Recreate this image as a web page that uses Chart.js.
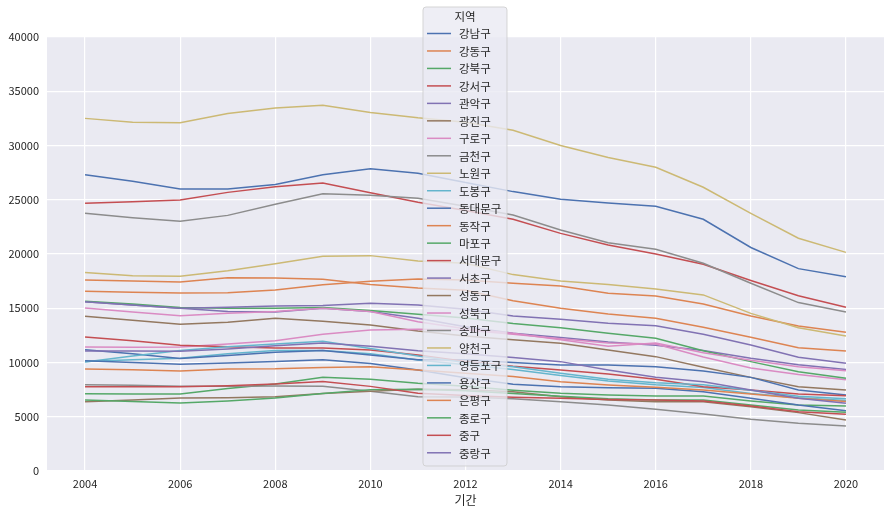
<!DOCTYPE html>
<html>
<head>
<meta charset="utf-8">
<script src="https://cdn.jsdelivr.net/npm/chart.js@4.4.1/dist/chart.umd.min.js"></script>
<style>
  html, body { margin: 0; padding: 0; background: #fff; }
  #wrap { width: 890px; height: 515px; }
</style>
</head>
<body>
<div id="wrap"><canvas id="chart" width="890" height="515"></canvas></div>
<script>
"use strict";

// 기간 (x) and tick labels
const years = [2004, 2005, 2006, 2007, 2008, 2009, 2010, 2011, 2012, 2013, 2014, 2015, 2016, 2017, 2018, 2019, 2020];
const xTicks = [2004, 2006, 2008, 2010, 2012, 2014, 2016, 2018, 2020];
const yTicks = [0, 5000, 10000, 15000, 20000, 25000, 30000, 35000, 40000];

// values per 지역
const gangnam     = [27300, 26700, 26000, 26000, 26400, 27300, 27850, 27450, 26600, 25750, 25050, 24700, 24400, 23200, 20600, 18650, 17900];
const gangdong    = [16560, 16470, 16400, 16430, 16680, 17170, 17480, 17700, 17600, 17300, 17050, 16380, 16130, 15390, 14290, 13360, 12780];
const gangbuk     = [7120, 7100, 7090, 7600, 8010, 8640, 8460, 8080, 7800, 7450, 7160, 7000, 6910, 6910, 6450, 6080, 6000];
const gangseo     = [24670, 24820, 24980, 25680, 26200, 26540, 25650, 24770, 24000, 23200, 21900, 20830, 20000, 19050, 17560, 16150, 15100];
const gwanak      = [15600, 15300, 15000, 14700, 14650, 15000, 14700, 14070, 13300, 12700, 12300, 11900, 11600, 11100, 10400, 9800, 9350];
const gwangjin    = [14270, 13900, 13520, 13700, 14070, 13800, 13450, 12900, 12450, 12100, 11770, 11150, 10540, 9560, 8630, 7770, 7470];
const guro        = [11420, 11400, 11420, 11700, 12000, 12600, 13000, 13060, 13000, 12600, 12200, 11800, 11700, 10500, 9500, 8900, 8420];
const geumcheon   = [7940, 7900, 7800, 7800, 7830, 7800, 7350, 6850, 6810, 6650, 6390, 6080, 5690, 5250, 4760, 4390, 4150];
const nowon       = [32500, 32150, 32100, 32950, 33450, 33700, 33050, 32550, 32150, 31400, 30000, 28900, 28000, 26150, 23750, 21450, 20150];
const dobong      = [10100, 10250, 10400, 10800, 11100, 11100, 10800, 10230, 9800, 9350, 8800, 8300, 7950, 7700, 7150, 6750, 6500];
const dongdaemun  = [11180, 10800, 10360, 10650, 10950, 11100, 10700, 10250, 10250, 10000, 9770, 9770, 9610, 9220, 8630, 7470, 7000];
const dongjak     = [17600, 17510, 17420, 17820, 17790, 17670, 17200, 16870, 16650, 15700, 14990, 14470, 14070, 13240, 12320, 11370, 11060];
const mapo        = [15640, 15400, 15060, 15000, 15000, 15060, 14800, 14450, 14100, 13600, 13210, 12690, 12230, 11090, 10080, 9150, 8540];
const seodaemun   = [12360, 12000, 11580, 11450, 11340, 11340, 11150, 10690, 10100, 9650, 9310, 8940, 8450, 7770, 7470, 7100, 6940];
const seocho      = [15600, 15300, 15000, 15100, 15200, 15250, 15450, 15300, 14900, 14290, 13980, 13610, 13390, 12600, 11610, 10480, 9920];
const seongdong   = [6390, 6550, 6730, 6760, 6840, 7140, 7350, 7530, 7500, 7300, 6850, 6540, 6390, 6390, 5930, 5380, 4700];
const seongbuk    = [15030, 14650, 14300, 14550, 14700, 15000, 14700, 13760, 13100, 12700, 12100, 11500, 11800, 10900, 10200, 9600, 9250];
const songpa      = [23750, 23350, 23010, 23560, 24580, 25560, 25410, 25130, 24400, 23590, 22210, 21040, 20430, 19140, 17300, 15520, 14650];
const yangcheon   = [18300, 18000, 17950, 18450, 19100, 19800, 19850, 19350, 19150, 18100, 17520, 17200, 16780, 16230, 14530, 13200, 12450];
const yeongdeungpo = [10050, 10600, 11100, 11450, 11700, 11950, 11300, 10600, 10000, 9600, 9000, 8450, 8140, 7950, 7450, 6900, 6670];
const yongsan     = [10150, 10000, 9850, 9950, 10100, 10260, 9900, 9310, 8600, 8000, 7770, 7680, 7620, 7310, 6700, 6080, 5560];
const eunpyeong   = [9390, 9340, 9220, 9400, 9420, 9540, 9600, 9310, 9000, 8700, 8230, 7930, 7710, 7470, 7100, 6700, 6400];
const jongno      = [6550, 6400, 6270, 6450, 6720, 7140, 7500, 7530, 7400, 7150, 6900, 6650, 6550, 6540, 6080, 5620, 5410];
const junggu      = [7760, 7760, 7760, 7850, 8010, 8250, 7800, 7160, 6950, 6800, 6700, 6600, 6540, 6450, 5990, 5470, 5220];
const jungnang    = [11060, 11050, 11030, 11250, 11550, 11790, 11500, 11090, 10800, 10450, 10080, 9310, 8630, 8230, 7470, 6700, 6240];

const districts = ['강남구', '강동구', '강북구', '강서구', '관악구', '광진구', '구로구', '금천구', '노원구', '도봉구',
                   '동대문구', '동작구', '마포구', '서대문구', '서초구', '성동구', '성북구', '송파구', '양천구', '영등포구',
                   '용산구', '은평구', '종로구', '중구', '중랑구'];
const series = [gangnam, gangdong, gangbuk, gangseo, gwanak, gwangjin, guro, geumcheon, nowon, dobong,
                dongdaemun, dongjak, mapo, seodaemun, seocho, seongdong, seongbuk, songpa, yangcheon, yeongdeungpo,
                yongsan, eunpyeong, jongno, junggu, jungnang];

// seaborn "deep" palette
const palette = ['#4c72b0', '#dd8452', '#55a868', '#c44e52', '#8172b3', '#937860', '#da8bc3', '#8c8c8c', '#ccb974', '#64b5cd'];

const FONT = "'Noto Sans CJK KR', 'Noto Sans', sans-serif";
const TEXT = '#262626';

// plot background
const bgPlugin = {
    id: 'plotBg',
    beforeDraw(chart) {
        const { ctx, chartArea: a } = chart;
        ctx.save();
        ctx.fillStyle = '#eaeaf2';
        ctx.fillRect(a.left, a.top, a.right - a.left, a.bottom - a.top);
        ctx.restore();
    }
};

// legend box with title, in the middle of the plot
const legendPlugin = {
    id: 'midLegend',
    afterDatasetsDraw(chart) {
        const ctx = chart.ctx;
        const x0 = 423, y0 = 7, w = 84, h = 459, r = 3;
        ctx.save();
        ctx.beginPath();
        ctx.moveTo(x0 + r, y0);
        ctx.arcTo(x0 + w, y0, x0 + w, y0 + h, r);
        ctx.arcTo(x0 + w, y0 + h, x0, y0 + h, r);
        ctx.arcTo(x0, y0 + h, x0, y0, r);
        ctx.arcTo(x0, y0, x0 + w, y0, r);
        ctx.closePath();
        ctx.fillStyle = 'rgba(234,234,242,0.8)';
        ctx.fill();
        ctx.strokeStyle = 'rgba(204,204,204,0.8)';
        ctx.lineWidth = 1;
        ctx.stroke();

        ctx.fillStyle = TEXT;
        ctx.font = '11.5px ' + FONT;
        ctx.textBaseline = 'middle';
        ctx.textAlign = 'center';
        ctx.fillText('지역', x0 + w / 2, 17);

        ctx.textAlign = 'left';
        chart.data.datasets.forEach((ds, i) => {
            const yy = 33.5 + i * 17.47;
            ctx.strokeStyle = ds.borderColor;
            ctx.lineWidth = 1.5;
            ctx.beginPath();
            ctx.moveTo(427, yy);
            ctx.lineTo(451, yy);
            ctx.stroke();
            ctx.fillStyle = TEXT;
            ctx.fillText(ds.label, 459, yy + 0.5);
        });
        ctx.restore();
    }
};

const datasets = districts.map((name, i) => ({
    label: name,
    data: years.map((yr, j) => ({ x: yr, y: series[i][j] })),
    borderColor: palette[i % palette.length],
    backgroundColor: palette[i % palette.length],
    borderWidth: 1.5,
    pointRadius: 0,
    tension: 0,
    fill: false,
    order: districts.length - i
}));

new Chart(document.getElementById('chart').getContext('2d'), {
    type: 'line',
    data: { datasets: datasets },
    options: {
        responsive: false,
        animation: false,
        events: [],
        layout: { padding: { top: 37, right: 6, left: 0, bottom: 0 } },
        plugins: {
            legend: { display: false },
            tooltip: { enabled: false }
        },
        scales: {
            x: {
                type: 'linear',
                min: 2003.2,
                max: 2020.8,
                afterBuildTicks: (s) => { s.ticks = xTicks.map(v => ({ value: v })); },
                afterFit: (s) => { s.height = 44; },
                ticks: {
                    callback: (v) => String(v),
                    color: TEXT,
                    font: { family: FONT, size: 11 },
                    padding: 6,
                    maxRotation: 0
                },
                grid: { color: '#ffffff', lineWidth: 1.2, drawTicks: false },
                border: { display: false },
                title: {
                    display: true,
                    text: '기간',
                    color: TEXT,
                    font: { family: FONT, size: 12 },
                    padding: { top: 0, bottom: 7 }
                }
            },
            y: {
                type: 'linear',
                min: 0,
                max: 40000,
                afterBuildTicks: (s) => { s.ticks = yTicks.map(v => ({ value: v })); },
                afterFit: (s) => { s.width = 47; },
                ticks: {
                    callback: (v) => String(v),
                    color: TEXT,
                    font: { family: FONT, size: 11 },
                    padding: 8
                },
                grid: { color: '#ffffff', lineWidth: 1.2, drawTicks: false },
                border: { display: false }
            }
        }
    },
    plugins: [bgPlugin, legendPlugin]
});
</script>
</body>
</html>
